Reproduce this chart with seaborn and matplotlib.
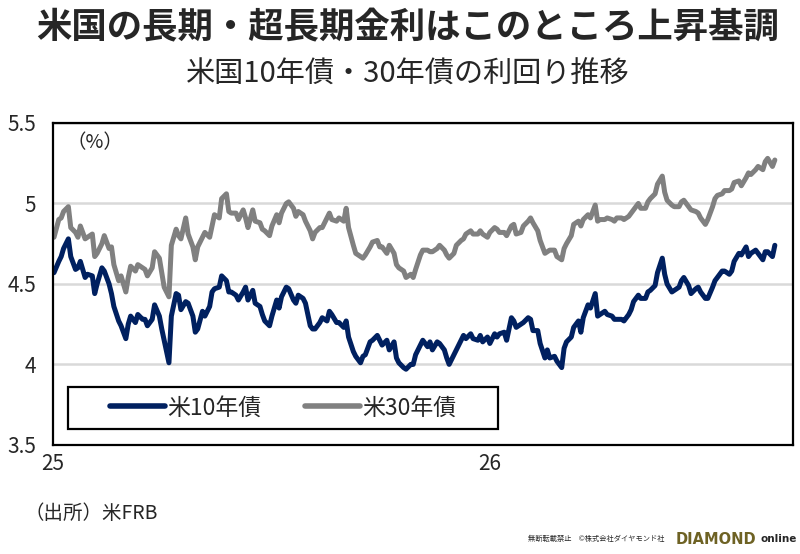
import pandas as pd
import matplotlib
matplotlib.use("Agg")
import matplotlib.pyplot as plt
import matplotlib.patches as mpatches
import seaborn as sns

# US Treasury yields (%), one value every 2 business days from Jan 2025
yield_10y = [4.57, 4.64, 4.67, 4.72, 4.78, 4.67, 4.59, 4.60, 4.64, 4.54,
             4.56, 4.55, 4.44, 4.50, 4.60, 4.58, 4.50, 4.44, 4.36, 4.27,
             4.24, 4.16, 4.25, 4.30, 4.26, 4.31, 4.28, 4.28, 4.24, 4.28,
             4.37, 4.30, 4.22, 4.15, 4.01, 4.30, 4.44, 4.43, 4.34, 4.39,
             4.38, 4.30, 4.20, 4.22, 4.33, 4.30, 4.36, 4.45, 4.47, 4.48,
             4.55, 4.52, 4.45, 4.45, 4.43, 4.40,
             4.45, 4.48, 4.40, 4.46, 4.38, 4.36, 4.31, 4.27, 4.24, 4.30,
             4.40, 4.35, 4.42, 4.48, 4.47, 4.40, 4.38, 4.43, 4.41, 4.38,
             4.24, 4.22, 4.22, 4.26, 4.29, 4.27, 4.33, 4.31, 4.26, 4.26,
             4.23, 4.27, 4.17, 4.08, 4.05, 4.01, 4.05, 4.06, 4.14, 4.15,
             4.18, 4.15, 4.12, 4.15, 4.09, 4.14, 4.04, 4.01, 3.98, 3.97,
             4.00, 4.00, 4.06, 4.12,
             4.15, 4.11, 4.14, 4.09, 4.14, 4.13, 4.09, 4.04, 4.00, 4.06,
             4.09, 4.15, 4.18, 4.16, 4.19, 4.16, 4.15, 4.18, 4.14, 4.17,
             4.13, 4.19, 4.17, 4.19, 4.20, 4.15, 4.29, 4.27, 4.23, 4.25,
             4.26, 4.29, 4.28, 4.21, 4.21, 4.13, 4.04, 4.09, 4.04, 4.05,
             4.02, 3.98, 4.10, 4.14, 4.17, 4.23, 4.27, 4.20, 4.29, 4.37,
             4.35, 4.44, 4.30, 4.31,
             4.33, 4.31, 4.30, 4.28, 4.28, 4.28, 4.27, 4.31, 4.34, 4.39,
             4.43, 4.41, 4.41, 4.45, 4.46, 4.49, 4.57, 4.66, 4.56, 4.50,
             4.45, 4.46, 4.48, 4.52, 4.54, 4.49, 4.44, 4.47, 4.48, 4.45,
             4.41, 4.41, 4.48, 4.52, 4.54, 4.58, 4.58, 4.56, 4.58, 4.64,
             4.69, 4.68, 4.73, 4.67, 4.69, 4.71, 4.69, 4.65, 4.70, 4.70,
             4.67, 4.74]

yield_30y = [4.79, 4.90, 4.91, 4.95, 4.98, 4.85, 4.82, 4.79, 4.86, 4.78,
             4.79, 4.81, 4.67, 4.69, 4.75, 4.80, 4.72, 4.73, 4.62, 4.52,
             4.55, 4.45, 4.54, 4.61, 4.58, 4.62, 4.60, 4.59, 4.55, 4.60,
             4.70, 4.66, 4.57, 4.48, 4.42, 4.74, 4.84, 4.80, 4.78, 4.91,
             4.81, 4.73, 4.65, 4.73, 4.79, 4.82, 4.79, 4.86, 4.93, 4.91,
             5.03, 5.06, 4.95, 4.94, 4.94, 4.90,
             4.96, 4.91, 4.85, 4.96, 4.89, 4.88, 4.84, 4.83, 4.80, 4.86,
             4.93, 4.88, 4.94, 5.00, 5.01, 4.97, 4.92, 4.95, 4.93, 4.89,
             4.83, 4.78, 4.82, 4.85, 4.85, 4.91, 4.94, 4.90, 4.89, 4.91,
             4.89, 4.97, 4.85, 4.74, 4.69, 4.67, 4.66, 4.68, 4.73, 4.76,
             4.77, 4.73, 4.73, 4.69, 4.74, 4.69, 4.62, 4.60, 4.58, 4.54,
             4.56, 4.54, 4.59, 4.68,
             4.71, 4.71, 4.70, 4.70, 4.72, 4.74, 4.71, 4.68, 4.66, 4.69,
             4.74, 4.77, 4.78, 4.81, 4.83, 4.81, 4.81, 4.83, 4.81, 4.79,
             4.82, 4.85, 4.84, 4.82, 4.82, 4.80, 4.86, 4.87, 4.81, 4.82,
             4.86, 4.89, 4.91, 4.88, 4.83, 4.77, 4.69, 4.70, 4.71, 4.71,
             4.67, 4.65, 4.72, 4.75, 4.80, 4.87, 4.89, 4.86, 4.90, 4.93,
             4.91, 4.99, 4.89, 4.90,
             4.90, 4.91, 4.90, 4.89, 4.91, 4.91, 4.90, 4.92, 4.94, 4.96,
             5.00, 4.97, 4.97, 5.01, 5.03, 5.06, 5.12, 5.17, 5.07, 5.02,
             4.99, 4.98, 4.98, 5.01, 5.02, 4.98, 4.96, 4.95, 4.94, 4.91,
             4.87, 4.90, 4.98, 5.03, 5.05, 5.06, 5.08, 5.08, 5.09, 5.13,
             5.14, 5.11, 5.16, 5.19, 5.18, 5.21, 5.23, 5.21, 5.26, 5.28,
             5.23, 5.27]

series_names = ["米10年債", "米30年債"]
year_ticks = ["2025-01-01", "2026-01-01"]
year_labels = ["25", "26"]
y_ticks = [3.5, 4, 4.5, 5, 5.5]
y_labels = ["3.5", "4", "4.5", "5", "5.5"]

dates = pd.bdate_range("2025-01-02", periods=len(yield_10y), freq="2B")
data = pd.DataFrame({"date": dates, series_names[0]: yield_10y, series_names[1]: yield_30y})
data = data.melt(id_vars="date", var_name="series", value_name="yield")

sns.set_style("white")
plt.rcParams["font.family"] = ["Noto Sans CJK JP", "DejaVu Sans"]

fig = plt.figure(figsize=(8, 5.54), dpi=100)
ax = fig.add_axes([0.066, 0.197, 0.925, 0.581])

sns.lineplot(data=data, x="date", y="yield", hue="series", ax=ax,
             palette=["#002060", "#808080"], linewidth=3.6)

ax.set_ylim(3.5, 5.5)
ax.set_xlim(pd.Timestamp("2025-01-01"), pd.Timestamp("2026-09-11"))
ax.set_yticks(y_ticks)
ax.set_yticklabels(y_labels, fontsize=15)
ax.set_xticks(pd.to_datetime(year_ticks))
ax.set_xticklabels(year_labels, fontsize=15)
ax.tick_params(axis="y", length=0, pad=12)
ax.tick_params(axis="x", direction="in", length=7, width=1.5, pad=6)
ax.grid(axis="y", color="#d9d9d9", linewidth=1.8)
ax.set_xlabel("")
ax.set_ylabel("")
for s in ax.spines.values():
    s.set_color("black")
    s.set_linewidth(1.6)

ax.text(0.018, 0.94, "（%）", transform=ax.transAxes, fontsize=14, va="center", ha="left")

# legend box
ax.add_patch(mpatches.Rectangle((0.020, 0.05), 0.581, 0.13, transform=ax.transAxes,
                                fill=True, facecolor="white", edgecolor="black",
                                linewidth=1.6, zorder=4))
handles, labels = ax.get_legend_handles_labels()
leg = ax.legend(handles, labels, loc="center", bbox_to_anchor=(0.311, 0.115), ncol=2,
                frameon=False, fontsize=16.5, handlelength=2.4, handletextpad=0.1,
                columnspacing=1.9)
leg.set_zorder(5)
for h in leg.legend_handles:
    h.set_linewidth(4)

fig.text(0.51, 0.949, "米国の長期・超長期金利はこのところ上昇基調", ha="center", va="center",
         fontsize=25.5, fontweight="bold")
fig.text(0.51, 0.865, "米国10年債・30年債の利回り推移", ha="center", va="center", fontsize=21)
fig.text(0.031, 0.074, "（出所）米FRB", ha="left", va="center", fontsize=14)
fig.text(0.66, 0.027, "無断転載禁止　©株式会社ダイヤモンド社", ha="left", va="center", fontsize=5.2)
fig.text(0.845, 0.027, "DIAMOND", ha="left", va="center", fontsize=10.5, fontweight="bold",
         color="#6e6224", family=["DejaVu Sans"])
fig.text(0.951, 0.027, "online", ha="left", va="center", fontsize=7.5, fontweight="bold",
         family=["DejaVu Sans"])

fig.savefig("out.png", dpi=100)
